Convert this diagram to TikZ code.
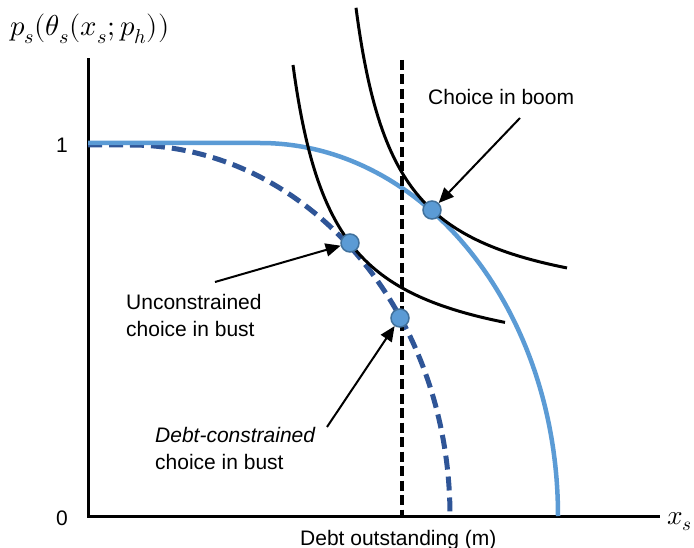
\documentclass[tikz,border=0pt]{standalone}
\usepackage{fontspec}
\setmainfont{Liberation Sans}
\usepackage{unicode-math}
\usetikzlibrary{arrows.meta}
\definecolor{lightblue}{HTML}{5B9BD5}
\definecolor{darkblue}{HTML}{2F5597}
\definecolor{dotedge}{HTML}{41719C}
\tikzset{
  axis/.style={line width=3pt, line cap=rect},
  bigfont/.style={font=\fontsize{21}{27}\selectfont, inner sep=0pt},
  lbl/.style={bigfont, align=left, anchor=base west},
  indiff/.style={line width=3pt, black},
  boomcurve/.style={line width=4.5pt, lightblue},
  bustcurve/.style={line width=5pt, darkblue, dash pattern=on 14pt off 7pt},
  debtline/.style={line width=3.5pt, black, dash pattern=on 10pt off 4.5pt},
  choicedot/.style={circle, fill=lightblue, draw=dotedge, line width=1.5pt, minimum size=18pt, inner sep=0pt},
  pointer/.style={line width=2pt, -{Triangle[length=15pt,width=13pt]}},
}
\begin{document}
\begin{tikzpicture}[x=1pt, y=-1pt]
\useasboundingbox (0,0) rectangle (694,548);
% axes
\coordinate (O) at (88,516);
\coordinate (ytop) at (88,60);
\coordinate (xend) at (658,516);
\draw[axis] (ytop) -- (O) -- (xend);
% axis labels
\node[bigfont, anchor=base west] (ylab) at (10,36) {\scalebox{1.37}{$p_s(\theta_s(x_s;p_h))$}};
\node[bigfont, anchor=base west] (xlab) at (667,524) {\scalebox{1.3}{$x_s$}};
\node[bigfont] (one) at (62,145) {1};
\node[bigfont] (zero) at (62,518) {0};
\node[bigfont, anchor=base west] (debtlab) at (300,545) {Debt outstanding (m)};
% dark blue dashed curve (debt-constrained)
\draw[bustcurve] (88,145) -- (130,145) arc[start angle=90, end angle=0, x radius=320, y radius=-371];
% light blue solid curve
\draw[boomcurve] (88,143) -- (260,143) arc[start angle=90, end angle=0, x radius=298, y radius=-373];
% indifference curves
\draw[indiff, smooth, samples=120, domain=356:567] plot (\x, {318 - 12594/(\x-315.4)});
\draw[indiff, smooth, samples=120, domain=293:505] plot (\x, {372.9 - 12809/(\x-251.4)});
% debt limit
\coordinate (dtop) at (402,60);
\coordinate (dbot) at (402,516);
\draw[debtline] (dtop) -- (dbot);
% choice dots
\node[choicedot] (boom) at (432,210) {};
\node[choicedot] (uncon) at (350,243) {};
\node[choicedot] (con) at (400,318) {};
% labels
\node[lbl] (boomlab) at (428,105) {Choice in boom};
\node[lbl] (unconlab) at (126,337) {Unconstrained\\choice in bust};
\node[lbl] (conlab) at (155,469) {\textit{Debt-constrained}\\choice in bust};
% arrows
\coordinate (a1) at (520,118);
\coordinate (a2) at (215,282);
\coordinate (a3) at (327,427);
\draw[pointer] (a1) -- (boom);
\draw[pointer] (a2) -- (uncon);
\draw[pointer] (a3) -- (con);
\end{tikzpicture}
\end{document}
